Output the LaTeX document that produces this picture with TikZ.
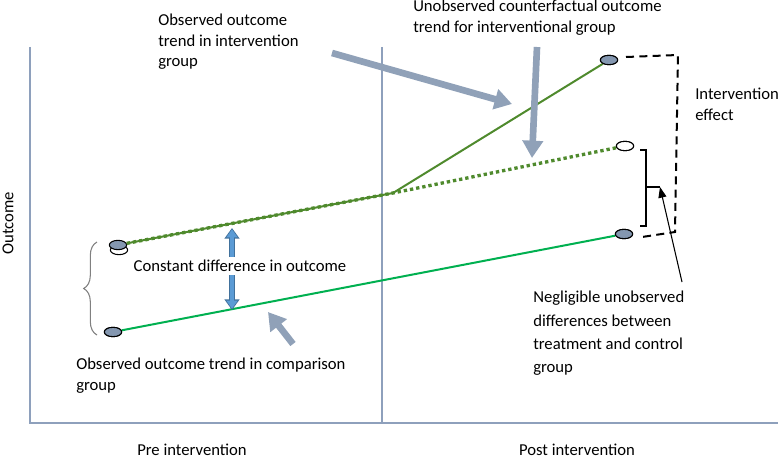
\documentclass[tikz,border=0pt]{standalone}
\usepackage{fontspec}
\setmainfont{Carlito}
\usetikzlibrary{arrows.meta, shapes.geometric, decorations.pathreplacing}
\definecolor{axisgrey}{HTML}{8EA0BC}
\definecolor{pointgrey}{HTML}{8497B0}
\definecolor{treatgreen}{HTML}{4F8A2D}
\definecolor{compgreen}{HTML}{00B050}
\definecolor{diffblue}{HTML}{5B9BD5}
\definecolor{diffedge}{HTML}{41719C}

\begin{document}
\begin{tikzpicture}[x=0.75pt, y=-0.75pt]
\tikzset{pt/.style={ellipse, draw=black, thick, fill=pointgrey, minimum width=13pt, minimum height=7pt, inner sep=0},
         lbl/.style={font=\fontsize{12.5}{15.2}\selectfont, align=left, inner sep=0, anchor=north west},
         pointer/.style={line width=5pt, draw=pointgrey!90, -{Triangle[length=13pt, width=15pt]}}}
\useasboundingbox (0,0) rectangle (778,460);

% axes
\draw[axisgrey, line width=1.5pt] (30,47) -- (30,423) -- (778,423);
\draw[axisgrey, line width=1.5pt] (382,47) -- (382,423);

% data points
\node[pt, fill=white] (C0) at (119,250) {};
\node[pt] (I1) at (118,245) {};
\coordinate (M) at (393,193);
\node[pt] (I2) at (609,60) {};
\node[pt, fill=white] (C1) at (625,146) {};
\node[pt] (K1) at (113,332) {};
\node[pt] (K2) at (624,234) {};

\draw[treatgreen, line width=1.5pt] (I1) -- (M) -- (I2);
\draw[treatgreen, line width=2.5pt, dash pattern=on 2.5pt off 2.2pt] (I1) -- (M) -- (C1);
\draw[compgreen, line width=1.5pt] (K1) -- (K2);
\node[pt] at (I2) {};
\node[pt, fill=white] at (C1) {};
\node[pt] at (K1) {};
\node[pt] at (K2) {};

% intervention effect
\coordinate (E1) at (626,57);
\coordinate (E2) at (678,55);
\coordinate (E3) at (675,232);
\coordinate (E4) at (642,237);
\draw[line width=1.5pt, dash pattern=on 6pt off 4pt] (E1) -- (E2) -- (E3) -- (E4);
\node[lbl] (effect) at (695,88) {Intervention\\effect};

% negligible differences
\draw[thick] (640,150) -- (646,150) -- (646,226) -- (640,226);
\coordinate (B) at (660,187);
\draw[thick] (646,187) -- (B);
\coordinate (N) at (682,282);
\draw[thick, -{Triangle[length=8pt, width=6pt]}] (N) -- (B);
\node[lbl, font=\fontsize{12.5}{17.5}\selectfont] (negl) at (533,291) {Negligible unobserved\\differences between\\treatment and control\\group};

% constant difference
\coordinate (D1) at (232,228);
\coordinate (D2) at (232,310);
\draw[diffedge, line width=5pt, {Triangle[length=8pt, width=11pt]}-{Triangle[length=8pt, width=11pt]}] (D1) -- (D2);
\draw[diffblue, line width=3pt, shorten <=1pt, shorten >=1pt, {Triangle[length=6pt, width=8pt]}-{Triangle[length=6pt, width=8pt]}] (D1) -- (D2);
\node[lbl, anchor=center, fill=white, inner sep=2pt] (const) at (240,266) {Constant difference in outcome};
\draw[gray, thick, decorate, decoration={brace, amplitude=10pt}] (97,335) -- (97,242);

% pointers
\coordinate (A1) at (332,53);  \coordinate (A1t) at (512,104);
\coordinate (A2) at (537,47);  \coordinate (A2t) at (532,158);
\coordinate (A3) at (293,344); \coordinate (A3t) at (268,312);
\draw[pointer] (A1) -- (A1t);
\draw[pointer] (A2) -- (A2t);
\draw[pointer] (A3) -- (A3t);

% labels
\node[lbl] (obs) at (158,14) {Observed outcome\\trend in intervention\\group};
\node[lbl] (unobs) at (413,0) {Unobserved counterfactual outcome\\trend for interventional group};
\node[lbl] (comp) at (76,358) {Observed outcome trend in comparison\\group};
\node[lbl, anchor=center] (pre) at (192,450) {Pre intervention};
\node[lbl, anchor=center] (post) at (577,450) {Post intervention};
\node[lbl, anchor=center, rotate=90] (outc) at (8,223) {Outcome};
\end{tikzpicture}
\end{document}
